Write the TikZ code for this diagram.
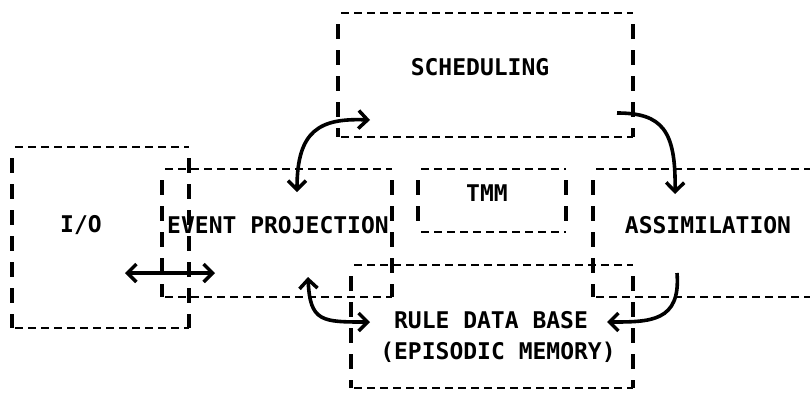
\documentclass[tikz,border=0pt]{standalone}
\usepackage{fontspec}
\setmonofont{DejaVu Sans Mono}
\usetikzlibrary{arrows.meta}

\tikzset{
  box/.style={inner sep=0pt, outer sep=0pt, anchor=north west},
  hdash/.style={line width=2.6pt, dash pattern=on 8pt off 5pt, dash phase=10pt},
  vdash/.style={line width=3.2pt, dash pattern=on 15pt off 11pt, dash phase=15pt},
  lbl/.style={font=\fontsize{23}{27}\selectfont\ttfamily\bfseries, inner sep=0pt},
  barb/.tip={Straight Barb[length=9pt,width=18pt,line width=3.5pt]},
  flow/.style={line width=3.6pt, -barb},
  dflow/.style={line width=3.6pt, barb-barb}
}

\begin{document}
\begin{tikzpicture}[x=1pt, y=-1pt]
    \clip (0,0) rectangle (810,394);

    % boxes
    \node[box, minimum width=177pt, minimum height=181pt] (io) at (12,147) {};
    \node[box, minimum width=230pt, minimum height=128pt] (evp) at (162,169) {};
    \node[box, minimum width=295pt, minimum height=124pt] (sched) at (338,13) {};
    \node[box, minimum width=148pt, minimum height=63pt] (tmm) at (418,169) {};
    \node[box, minimum width=282pt, minimum height=123pt] (rdb) at (351,265) {};
    \node[box, minimum width=240pt, minimum height=128pt] (assim) at (593,169) {};

    % dashed outlines, ascii style
    \foreach \b in {io,evp,sched,tmm,rdb,assim}{
        \draw[hdash] (\b.north west) -- (\b.north east) (\b.south west) -- (\b.south east);
        \draw[vdash] (\b.north west) -- (\b.south west) (\b.north east) -- (\b.south east);
    }

    % labels
    \node[lbl] (iotxt) at (81,225) {I/O};
    \node[lbl] (evptxt) at (278,225) {EVENT PROJECTION};
    \node[lbl] (schedtxt) at (480,67) {SCHEDULING};
    \node[lbl] (tmmtxt) at (487,193) {TMM};
    \node[lbl] (assimtxt) at (708,225) {ASSIMILATION};
    \node[lbl] (rdbtxt) at (491,320) {RULE DATA BASE};
    \node[lbl] (epitxt) at (498,352) {(EPISODIC MEMORY)};

    % arrow ends
    \coordinate (ioend) at (125,273);
    \coordinate (evpend) at (215,273);
    \coordinate (evpup) at (297,192);
    \coordinate (schedin) at (370,120);
    \coordinate (schedout) at (617,113);
    \coordinate (assimin) at (675,194);
    \coordinate (evpdown) at (308,277);
    \coordinate (rdbin) at (370,322);
    \coordinate (assimout) at (677,273);
    \coordinate (rdbright) at (607,322);

    % flows
    \draw[dflow] (ioend) -- (evpend);
    \draw[dflow] (evpup) .. controls (297,130) and (320,118) .. (schedin);
    \draw[flow] (schedout) .. controls (662,113) and (676,130) .. (assimin);
    \draw[dflow] (evpdown) .. controls (310,322) and (322,322) .. (rdbin);
    \draw[flow] (assimout) .. controls (681,322) and (650,322) .. (rdbright);
\end{tikzpicture}
\end{document}
